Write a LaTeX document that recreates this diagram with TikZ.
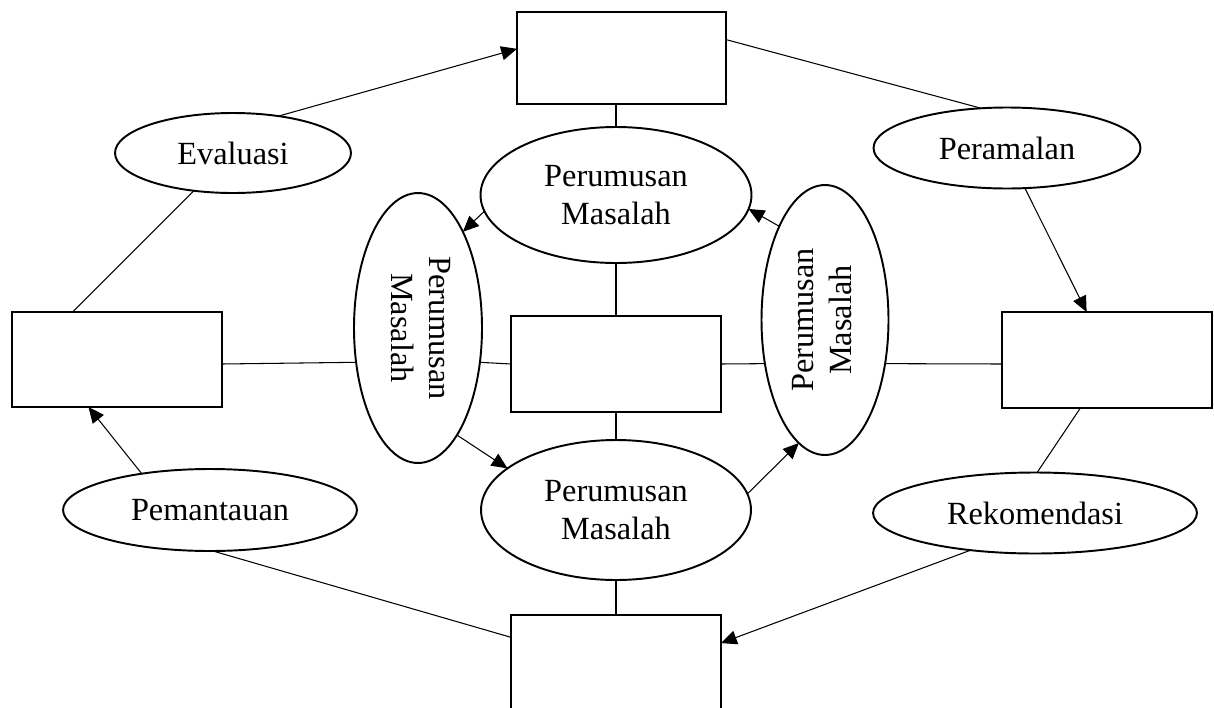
\documentclass[tikz,border=0pt]{standalone}
\usepackage{fontspec}
\setmainfont{Liberation Serif}
\usepackage{graphicx}
\usetikzlibrary{shapes.geometric,arrows.meta}

\tikzset{
  kotak/.style={draw, rectangle, line width=1.5pt, minimum width=4.2cm,
    minimum height=1.92cm, outer sep=0pt},
  elips/.style={draw, ellipse, line width=1.1pt, outer sep=0pt,
    inner sep=1pt, align=center},
  garis/.style={line width=0.6pt},
  panah/.style={garis, -{Triangle[length=9pt,width=8pt]}}
}

\begin{document}
\begin{tikzpicture}[x=0.02cm, y=-0.02cm, font=\fontsize{18.4}{21.8}\selectfont]
\useasboundingbox (0,0) rectangle (1214,707);
% the five boxes
\node[kotak, minimum width=4.18cm, minimum height=1.84cm] (atas) at (621.5,58) {};
\node[kotak] (tengah) at (616,364) {};
\node[kotak, minimum height=1.9cm] (kiri) at (117,359.5) {};
\node[kotak] (kanan) at (1107,360) {};
\node[kotak, minimum height=1.94cm] (bawah) at (616,663.5) {};
% outer ring of ellipses
\node[elips, minimum width=4.72cm, minimum height=1.6cm] (eval) at (233,153) {Evaluasi};
\node[elips, minimum width=5.34cm, minimum height=1.62cm] (ramal) at (1007,148) {Peramalan};
\node[elips, minimum width=5.88cm, minimum height=1.64cm] (pantau) at (210,510) {Pemantauan};
\node[elips, minimum width=6.48cm, minimum height=1.62cm] (rekom) at (1035,513) {Rekomendasi};
% inner ring of ellipses
\node[elips, minimum width=5.42cm, minimum height=2.72cm] (rumusA) at (616,195) {Perumusan\\Masalah};
\node[elips, minimum width=2.56cm, minimum height=5.4cm] (rumusB) at (418,328)
  {\rotatebox{-90}{\begin{tabular}{@{}c@{}}Perumusan\\Masalah\end{tabular}}};
\node[elips, minimum width=2.54cm, minimum height=5.4cm] (rumusC) at (825,320)
  {\rotatebox{90}{\begin{tabular}{@{}c@{}}Perumusan\\Masalah\end{tabular}}};
\node[elips, minimum width=5.4cm, minimum height=2.8cm] (rumusD) at (616,510) {Perumusan\\Masalah};

% outer cycle
\draw[panah] (eval.39) -- (atas.175);
\draw[garis] (atas.10) -- (ramal.123);
\draw[panah] (ramal.294) -- (kanan.113);
\draw[garis] (kanan.241) -- (rekom.87);
\draw[panah] (rekom.210) -- (bawah.11);
\draw[garis] (bawah.166) -- (pantau.274);
\draw[panah] (pantau.152) -- (kiri.239);
\draw[garis] (kiri.133) -- (eval.224);

% spokes to the middle
\draw[garis] (atas.south -| rumusA.north) -- (rumusA.north);
\draw[garis] (rumusA) -- (tengah);
\draw[garis] (tengah) -- (rumusD);
\draw[garis] (rumusD) -- (bawah);
\draw[garis] (kiri.east |- tengah) -- (rumusB.209);
\draw[garis] (rumusB.-29) -- (tengah.west);
\draw[garis] (tengah.east) -- (rumusC.216);
\draw[garis] (rumusC.-36) -- (tengah -| kanan.west);

% inner cycle
\draw[panah] (rumusA.187) -- (rumusB.65);
\draw[panah] (rumusB.290) -- (rumusD.159);
\draw[panah] (rumusD.7) -- (rumusC.258);
\draw[panah] (rumusC.116) -- (rumusA.354);
\end{tikzpicture}
\end{document}
